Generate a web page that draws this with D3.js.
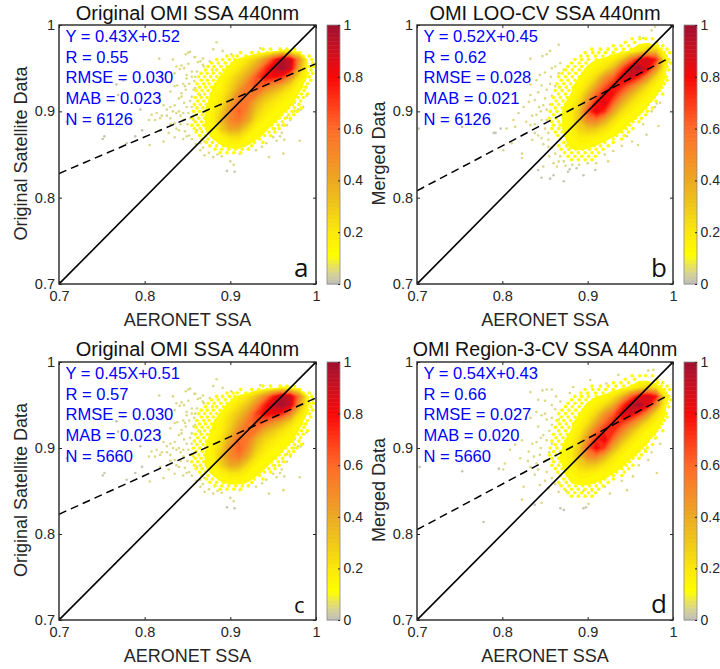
<!DOCTYPE html>
<html><head><meta charset="utf-8">
<script src="https://cdn.jsdelivr.net/npm/d3@7"></script>
<style>html,body{margin:0;padding:0;background:#fff}svg{display:block}text{font-family:"Liberation Sans",Arial,sans-serif}</style>
</head><body><svg id="c" width="720" height="669"></svg>
<script>
const titles=["Original OMI SSA 440nm","OMI LOO-CV SSA 440nm","Original OMI SSA 440nm","OMI Region-3-CV SSA 440nm"];
const yLabels=["Original Satellite Data","Merged Data","Original Satellite Data","Merged Data"];
const xLabel="AERONET SSA";
const letters=["a","b","c","d"];
const stats=[
 ["Y = 0.43X+0.52","R = 0.55","RMSE = 0.030","MAB = 0.023","N = 6126"],
 ["Y = 0.52X+0.45","R = 0.62","RMSE = 0.028","MAB = 0.021","N = 6126"],
 ["Y = 0.45X+0.51","R = 0.57","RMSE = 0.030","MAB = 0.023","N = 5660"],
 ["Y = 0.54X+0.43","R = 0.66","RMSE = 0.027","MAB = 0.020","N = 5660"]];
const fitLines=[[[0.7,0.828],[0.9995,0.955]],[[0.7,0.808],[0.992,0.96]],[[0.7,0.823],[0.9995,0.958]],[[0.7,0.805],[0.994,0.961]]];
const axisTicks=[0.7,0.8,0.9,1];
const barTicks=[0,0.2,0.4,0.6,0.8,1];
const cmapStops=[0,0.04,0.08,0.11,0.2,0.3,0.4,0.5,0.6,0.7,0.8,0.9,1];
const cmapColors=["#bdbdbd","#d6d296","#eee84c","#ffff00","#fbe80c","#efc818","#eca822","#f58a28","#ff6a28","#ff3a18","#f80808","#cc1020","#a01030"];
// density on a 0.01 grid: columns x = 0.85..1.00, rows y = 0.99..0.83 (percent of max)
const gridX0=0.85, gridYTop=0.99, gridStep=0.01;
const densityA=[
[0,0,0,0,0,0,0,0,0,0,0,0,0,0,0,0],[0,0,0,0,0,0,0,0,0,0,0,0,0,0,0,0],
[0,0,0,0,0,0,0,0,4,6,10,14,14,8,2,0],
[0,0,0,2,6,10,14,20,30,45,70,95,90,50,12,2],
[0,0,0,6,10,14,20,30,45,70,90,100,90,40,12,2],
[0,2,6,10,13,20,30,42,65,80,80,75,50,22,12,0],
[0,4,8,12,15,25,38,56,66,60,48,38,25,14,10,0],
[2,6,10,13,18,30,50,58,55,38,30,22,16,12,8,0],
[3,8,11,14,22,42,58,55,38,26,20,15,13,10,4,0],
[4,9,12,16,28,50,62,50,30,20,15,13,11,8,2,0],
[4,9,12,16,34,52,56,42,22,15,13,11,8,4,0,0],
[2,8,12,14,30,42,40,26,15,13,11,8,4,2,0,0],
[2,5,10,13,16,22,22,15,13,11,6,4,2,0,0,0],
[0,2,5,9,12,13,13,12,10,5,3,2,0,0,0,0],
[0,0,2,4,7,10,10,7,3,2,0,0,0,0,0,0],
[0,0,0,2,2,3,3,2,0,0,0,0,0,0,0,0],[0,0,0,0,0,0,0,0,0,0,0,0,0,0,0,0]];
const densityB=[
[0,0,0,0,0,0,0,0,0,0,0,2,3,0,0,0],
[0,0,0,0,0,0,0,0,0,0,3,10,11,5,0,0],
[0,0,0,0,0,2,5,6,8,10,13,20,30,30,10,2],
[0,0,0,2,5,10,12,14,18,30,55,80,90,75,20,5],
[0,0,0,5,10,13,16,22,35,65,90,100,85,50,15,4],
[0,2,4,9,12,16,25,45,60,85,90,75,50,25,13,3],
[0,3,6,11,14,22,40,62,78,75,60,42,25,15,11,2],
[2,5,9,12,18,35,60,78,78,58,38,24,16,13,8,0],
[3,7,11,14,24,50,78,88,62,38,24,16,13,10,4,0],
[3,8,12,16,30,66,86,72,42,24,16,13,11,7,2,0],
[3,9,12,16,32,52,55,40,24,15,13,11,6,3,0,0],
[2,8,12,15,26,32,30,22,15,13,10,6,3,0,0,0],
[3,7,11,14,18,18,16,14,12,10,5,3,2,0,0,0],
[3,6,10,13,13,13,12,10,8,4,2,0,0,0,0,0],
[2,4,8,10,11,10,9,6,3,2,0,0,0,0,0,0],
[0,2,3,5,6,5,3,2,0,0,0,0,0,0,0,0],[0,0,2,2,2,0,0,0,0,0,0,0,0,0,0,0]];
const densityC=[
[0,0,0,0,0,0,0,0,0,0,0,0,0,0,0,0],[0,0,0,0,0,0,0,0,0,0,0,0,0,0,0,0],
[0,0,0,0,0,0,0,0,4,6,10,14,14,8,2,0],
[0,0,0,2,6,10,14,20,32,50,75,95,92,55,14,2],
[0,0,0,6,10,14,22,32,50,75,92,100,90,45,14,2],
[0,2,6,10,13,22,32,45,68,82,82,75,52,24,12,0],
[0,4,8,12,16,26,40,56,66,60,48,38,26,14,10,0],
[2,6,10,13,18,30,50,60,55,38,30,22,16,12,8,0],
[3,8,11,14,22,42,60,56,38,26,20,15,13,10,4,0],
[4,9,12,16,28,50,63,50,30,20,15,13,11,8,2,0],
[4,9,12,16,34,50,56,40,22,15,13,11,8,4,0,0],
[2,8,12,14,28,40,38,24,15,13,11,8,4,2,0,0],
[2,5,10,13,16,20,20,15,13,11,6,4,2,0,0,0],
[0,2,5,9,12,13,13,12,10,5,3,2,0,0,0,0],
[0,0,2,4,7,9,9,6,3,2,0,0,0,0,0,0],
[0,0,0,2,2,3,3,2,0,0,0,0,0,0,0,0],[0,0,0,0,0,0,0,0,0,0,0,0,0,0,0,0]];
const densityD=[
[0,0,0,0,0,0,0,0,0,0,0,0,0,0,0,0],
[0,0,0,0,0,0,0,0,0,2,6,10,8,3,0,0],
[0,0,0,0,0,2,5,6,8,11,14,22,30,22,8,2],
[0,0,0,2,5,10,12,14,20,35,60,82,90,78,22,5],
[0,0,0,5,10,13,16,24,38,68,92,100,85,50,15,4],
[0,2,5,9,12,16,26,45,62,85,88,72,48,24,13,3],
[0,3,7,11,14,22,40,60,76,72,58,40,24,15,11,2],
[2,5,9,12,18,34,58,74,74,54,36,22,15,13,8,0],
[3,7,11,14,24,48,74,84,58,36,22,15,13,10,4,0],
[3,9,12,16,30,62,82,68,38,22,15,13,11,7,2,0],
[4,10,13,17,32,50,52,36,22,14,13,11,6,3,0,0],
[3,9,12,16,26,30,28,20,15,13,10,6,3,0,0,0],
[3,8,11,14,17,17,15,14,12,10,6,3,2,0,0,0],
[2,6,10,12,13,13,12,11,8,4,2,0,0,0,0,0],
[2,4,8,9,10,10,8,5,3,2,0,0,0,0,0,0],
[0,0,2,3,3,3,2,2,0,0,0,0,0,0,0,0],[0,0,0,0,0,0,0,0,0,0,0,0,0,0,0,0]];
const sparseAC=[[.817,.961],[.833,.960],[.851,.968],[.859,.963],[.837,.952],[.841,.949],[.835,.944],[.865,.958],[.869,.952],[.855,.946],[.859,.940],[.849,.938],[.845,.932],[.835,.929],[.830,.923],[.822,.907],[.826,.902],[.814,.898],[.808,.896],[.818,.892],[.830,.892],[.835,.886],[.845,.890],[.851,.898],[.837,.880],[.847,.877],[.855,.884],[.861,.878],[.818,.878],[.797,.878],[.753,.871],[.751,.868],[.779,.863],[.789,.871],[.822,.865],[.806,.861],[.767,.931],[.775,.936],[.769,.919],[.795,.902],[.709,.888],[.835,.907],[.859,.927],[.865,.919],[.855,.917],[.843,.921],[.818,.915],[.837,.898],[.884,.980],[.880,.972],[.891,.970],[.848,.966],[.853,.969],[.858,.963],[.868,.961],[.935,.973],[.901,.966],[.843,.953],[.861,.946],[.849,.942],[.868,.954],[.876,.958],[.847,.929],[.857,.925],[.843,.917],[.849,.905],[.845,.898],[.857,.890],[.849,.871],[.865,.863],[.870,.849],[.880,.847],[.890,.848],[.900,.842],[.904,.838],[.896,.831],[.905,.830],[.911,.851],[.921,.857],[.937,.859],[.942,.863],[.945,.847],[.962,.851],[.958,.871],[.963,.867],[.954,.866],[.981,.866],[.952,.880],[.966,.884],[.961,.884],[.979,.902],[.975,.900],[.982,.902],[.966,.893],[.973,.907],[.989,.918],
[.846,.95],[.851,.955],[.862,.957],[.855,.94],[.852,.932],[.838,.93],[.858,.935],[.848,.925],[.84,.915],[.853,.912],[.846,.91],[.83,.905],[.84,.9],[.855,.905],[.833,.9],[.826,.895],[.842,.895],[.853,.892],[.82,.895],[.812,.89],[.805,.89],[.83,.885],[.842,.885],[.85,.885],[.828,.875],[.84,.878],[.852,.872],[.835,.87],[.845,.868],[.855,.868],[.86,.862],[.868,.858],[.875,.852],[.885,.85],[.865,.855],[.87,.865],[.93,.855],[.95,.87],[.97,.89],[.975,.91],[.985,.905],[.96,.875]];
const sparseB=[[.979,.998],[.975,.994],[.961,.986],[.965,.985],[.866,.977],[.856,.970],[.852,.966],[.847,.964],[.833,.961],[.868,.956],[.862,.952],[.872,.948],[.866,.944],[.844,.942],[.840,.936],[.833,.931],[.857,.940],[.862,.929],[.852,.925],[.833,.919],[.838,.913],[.831,.911],[.848,.907],[.852,.902],[.840,.896],[.846,.890],[.813,.890],[.819,.898],[.825,.905],[.815,.882],[.805,.880],[.798,.880],[.792,.875],[.833,.884],[.838,.875],[.846,.869],[.854,.867],[.835,.867],[.823,.851],[.823,.846],[.811,.863],[.801,.855],[.854,.859],[.862,.851],[.868,.848],[.864,.836],[.872,.842],[.877,.830],[.848,.836],[.842,.832],[.860,.826],[.856,.822],[.846,.823],[.872,.819],[.895,.826],[.909,.832],[.924,.842],[.930,.854],[.952,.865],[.959,.861],[.969,.873],[.981,.909],[.979,.905],[.983,.883],[.946,.871],[.887,.834],[.879,.833],[.702,.880],[.753,.882],[.790,.875],
[.858,.95],[.85,.945],[.846,.93],[.856,.932],[.842,.922],[.85,.915],[.858,.918],[.843,.905],[.856,.908],[.835,.895],[.845,.9],[.852,.89],[.828,.888],[.838,.885],[.85,.88],[.842,.872],[.854,.875],[.848,.862],[.858,.858],[.866,.842],[.874,.837],[.882,.838],[.855,.848],[.86,.84],[.89,.838],[.9,.84],[.91,.84],[.92,.85],[.94,.86],[.965,.885],[.975,.9],[.985,.91]];
const sparseD=[[.936,.985],[.977,.991],[.971,.990],[.922,.975],[.903,.979],[.883,.971],[.879,.964],[.858,.968],[.852,.968],[.847,.967],[.833,.965],[.863,.960],[.868,.954],[.842,.956],[.858,.950],[.840,.942],[.846,.938],[.833,.935],[.852,.933],[.858,.927],[.866,.933],[.848,.915],[.840,.907],[.852,.909],[.823,.909],[.815,.904],[.809,.898],[.831,.896],[.837,.890],[.844,.892],[.821,.888],[.803,.882],[.796,.876],[.801,.875],[.833,.878],[.838,.869],[.844,.857],[.854,.853],[.866,.849],[.868,.857],[.825,.855],[.823,.840],[.838,.834],[.846,.836],[.868,.830],[.872,.828],[.895,.830],[.901,.835],[.898,.831],[.778,.814],[.953,.867],[.946,.851],[.926,.847],[.981,.871],[.971,.886],[.979,.911],[.967,.898],[.703,.878],[.753,.873],
[.85,.955],[.862,.945],[.85,.94],[.858,.935],[.842,.925],[.855,.92],[.845,.912],[.858,.905],[.835,.905],[.845,.9],[.855,.895],[.83,.885],[.84,.882],[.85,.885],[.842,.875],[.852,.872],[.858,.865],[.85,.862],[.862,.858],[.875,.85],[.885,.848],[.895,.85],[.905,.85],[.92,.855],[.94,.862],[.96,.88],[.975,.895],[.985,.905]];
// yellow low-density dots around the dense core, listed by row: [y, x...]
const edgeRowsAC=[
[.972,.938,.947,.958,.966,.975],[.968,.912,.925,.933,.943,.952,.981],[.964,.896,.903,.908,.918,.927,.985,.992],[.96,.884,.891,.899,.905,.912,.987,.995],[.956,.878,.886,.894,.902,.908,.989,.996],[.952,.874,.881,.889,.896,.903,.984,.992,.997],[.948,.871,.879,.884,.892,.899,.987,.994],[.944,.866,.873,.88,.888,.895,.983,.99,.996],[.94,.863,.87,.877,.884,.891,.984,.992],[.936,.866,.873,.88,.887,.893,.979,.986,.994],[.932,.861,.869,.875,.883,.889,.982,.99],[.928,.864,.871,.878,.885,.975,.983,.988],[.924,.86,.867,.874,.881,.887,.971,.979,.986],[.92,.863,.87,.877,.884,.968,.975,.983,.99],[.916,.859,.866,.873,.88,.886,.963,.972,.979,.985],[.912,.862,.869,.876,.883,.96,.969,.975,.982],[.908,.858,.865,.872,.879,.957,.965,.972,.98],[.904,.861,.868,.875,.953,.961,.968,.975,.983],[.90,.857,.864,.871,.877,.95,.958,.965,.972,.978],[.896,.86,.867,.874,.945,.953,.96,.968,.974],[.892,.856,.863,.87,.877,.941,.949,.957,.964,.97],[.888,.859,.866,.873,.938,.946,.953,.961],[.884,.855,.862,.869,.876,.933,.941,.948,.956,.963],[.88,.858,.865,.872,.926,.934,.942,.95,.957],[.876,.86,.867,.874,.88,.92,.928,.936,.945,.952],[.872,.864,.871,.878,.915,.923,.931,.94,.947],[.868,.867,.874,.882,.89,.91,.918,.926,.934],[.864,.872,.879,.887,.895,.903,.912,.92,.928,.938],[.86,.876,.884,.892,.90,.908,.916,.925],[.856,.882,.89,.898,.906,.914,.921],[.852,.888,.896,.904,.912]];
const edgeRowsBD=[
[.984,.952,.961,.968,.976],[.98,.944,.955,.981],[.976,.93,.939,.948,.982,.988],[.972,.905,.915,.924,.933,.942,.951,.986,.993],[.968,.897,.906,.913,.921,.93,.94,.949,.99,.996],[.964,.892,.9,.909,.918,.927,.936,.992],[.96,.885,.893,.901,.91,.919,.927,.995],[.956,.881,.89,.898,.906,.915,.923,.99,.997],[.952,.877,.885,.893,.901,.91,.986,.993],[.948,.874,.882,.89,.898,.905,.988,.995],[.944,.87,.878,.886,.894,.9,.983,.99],[.94,.866,.874,.882,.89,.898,.984,.992],[.936,.869,.877,.885,.892,.979,.986,.993],[.932,.864,.872,.88,.888,.975,.983,.99],[.928,.867,.875,.883,.973,.98,.987],[.924,.862,.87,.878,.886,.968,.976,.984],[.92,.866,.874,.882,.965,.973,.981,.988],[.916,.86,.868,.876,.884,.962,.97,.978],[.912,.863,.871,.879,.958,.966,.974,.98],[.908,.858,.866,.874,.882,.955,.963,.971],[.904,.862,.87,.878,.951,.96,.968,.976],[.90,.856,.864,.872,.879,.948,.956,.964,.97],[.896,.86,.868,.875,.944,.952,.96,.968],[.892,.855,.863,.871,.878,.94,.948,.956,.963],[.888,.858,.866,.874,.937,.945,.953,.96],[.884,.86,.868,.876,.933,.941,.949],[.88,.858,.866,.873,.881,.928,.936,.945,.953],[.876,.862,.87,.878,.924,.932,.94,.948],[.872,.865,.873,.881,.918,.926,.934,.943],[.868,.868,.876,.884,.892,.914,.922,.93,.94],[.864,.872,.88,.888,.896,.904,.912,.92,.93],[.86,.866,.875,.883,.891,.899,.907,.915,.924],[.856,.869,.878,.886,.894,.902,.91,.918],[.852,.873,.881,.889,.897,.905,.913],[.848,.877,.885,.893,.901,.909],[.844,.881,.889,.897,.905]];
const densities=[densityA,densityB,densityC,densityD];
const sparse=[sparseAC,sparseB,sparseAC,sparseD];
const edgeRows=[edgeRowsAC,edgeRowsBD,edgeRowsAC,edgeRowsBD];

const svg=d3.select("#c");
const color=d3.scaleLinear().domain(cmapStops).range(cmapColors).clamp(true);
const frames=[{l:59,r:316,t:25,b:284,bx:327,tt:5},{l:417,r:673,t:25,b:284,bx:684,tt:5},{l:59,r:316,t:362,b:620,bx:327,tt:6},{l:417,r:673,t:362,b:620,bx:684,tt:6}];
const letterSize=[26,26,22,26];
const titleSize=[20,20,20,19.6];
const fmt=v=>v===1?"1":v===0?"0":d3.format(".1f")(v);
const ink="#262626";

frames.forEach((f,i)=>{
  const x=d3.scaleLinear().domain([0.7,1]).range([f.l,f.r]);
  const y=d3.scaleLinear().domain([0.7,1]).range([f.b,f.t]);
  const g=svg.append("g");
  const clipId="clip"+i;
  svg.append("clipPath").attr("id",clipId).append("rect").attr("x",f.l).attr("y",f.t).attr("width",f.r-f.l).attr("height",f.b-f.t);
  const plot=g.append("g").attr("clip-path",`url(#${clipId})`);
  plot.selectAll(".s").data(sparse[i]).join("circle").attr("cx",d=>x(d[0])).attr("cy",d=>y(d[1])).attr("r",1.3)
    .attr("fill",d=>color(d[0]<0.8||d[1]<0.835?0.015:0.05));
  const edgePts=edgeRows[i].flatMap(r=>r.slice(1).map(v=>[v,r[0]]));
  plot.selectAll(".e").data(edgePts).join("circle").attr("cx",d=>x(d[0])).attr("cy",d=>y(d[1])).attr("r",1.8).attr("fill",color(0.11));
  // density bands
  const rows=densities[i], nr=rows.length, nc=rows[0].length;
  const contours=d3.contours().size([nc,nr]).thresholds(d3.range(12,101,3))(rows.flat());
  const proj=d3.geoTransform({point(px,py){this.stream.point(x(gridX0+(px-0.5)*gridStep),y(gridYTop-(py-0.5)*gridStep));}});
  const path=d3.geoPath(proj);
  plot.selectAll(".b").data(contours).join("path").attr("d",path).attr("fill",d=>color((d.value+1.5)/100));
  // 1:1 and fit lines
  const line=d3.line().x(d=>x(d[0])).y(d=>y(d[1]));
  plot.append("path").attr("d",line([[0.7,0.7],[1,1]])).attr("stroke","#000").attr("stroke-width",1.6).attr("fill","none");
  plot.append("path").attr("d",line(fitLines[i])).attr("stroke","#000").attr("stroke-width",1.5).attr("stroke-dasharray","8,5").attr("fill","none");
  // axes
  const style=(a,fs=14.5)=>{a.select(".domain").remove();a.selectAll("line").attr("stroke",ink).attr("stroke-width",1);a.selectAll("text").attr("fill",ink).attr("font-size",fs).attr("font-family",'"Liberation Sans"');};
  g.append("g").attr("transform",`translate(0,${f.b})`).call(d3.axisBottom(x).tickValues(axisTicks).tickFormat(fmt).tickSizeInner(-3).tickPadding(7)).call(style);
  g.append("g").attr("transform",`translate(${f.l},0)`).call(d3.axisLeft(y).tickValues(axisTicks).tickFormat(fmt).tickSizeInner(-3).tickPadding(4)).call(style);
  g.append("g").attr("transform",`translate(0,${f.t})`).call(d3.axisTop(x).tickValues(axisTicks).tickFormat("").tickSizeInner(-3)).call(style);
  g.append("g").attr("transform",`translate(${f.r},0)`).call(d3.axisRight(y).tickValues(axisTicks).tickFormat("").tickSizeInner(-3)).call(style);
  g.append("rect").attr("x",f.l).attr("y",f.t).attr("width",f.r-f.l).attr("height",f.b-f.t).attr("fill","none").attr("stroke",ink).attr("stroke-width",1.4);
  // texts
  g.append("text").attr("x",(f.l+f.r)/2).attr("y",f.t-f.tt).attr("text-anchor","middle").attr("font-size",titleSize[i]).attr("fill","#111").text(titles[i]);
  g.append("text").attr("x",(f.l+f.r)/2).attr("y",f.b+42).attr("text-anchor","middle").attr("font-size",18).attr("fill",ink).text(xLabel);
  g.append("text").attr("transform",`translate(${f.l-32},${(f.t+f.b)/2-1}) rotate(-90)`).attr("text-anchor","middle").attr("font-size",18).attr("fill",ink).text(yLabels[i]);
  stats[i].forEach((s,k)=>g.append("text").attr("x",f.l+6.5).attr("y",f.t+16.7+k*20.8).attr("font-size",16.5).attr("fill","#0000ff").text(s));
  g.append("text").attr("x",f.r-22).attr("y",f.b-7).attr("font-size",letterSize[i]).attr("fill","#111").style("font-family",'"Open Sans"').text(letters[i]);
  // colour bar
  const by=d3.scaleLinear().domain([0,1]).range([f.b,f.t]);
  const bands=d3.range(0,1,1/64);
  g.selectAll(".cb").data(bands).join("rect").attr("x",f.bx).attr("width",13).attr("y",d=>by(d+1/64)).attr("height",d=>by(d)-by(d+1/64)+0.5).attr("fill",d=>color(d+1/128));
  g.append("rect").attr("x",f.bx).attr("y",f.t).attr("width",13).attr("height",f.b-f.t).attr("fill","none").attr("stroke","#8a8a8a").attr("stroke-width",0.8);
  g.append("g").attr("transform",`translate(${f.bx+13},0)`).call(d3.axisRight(by).tickValues(barTicks).tickFormat(fmt).tickSizeInner(-2).tickPadding(3.5)).call(a=>style(a,14));
});
</script></body></html>
